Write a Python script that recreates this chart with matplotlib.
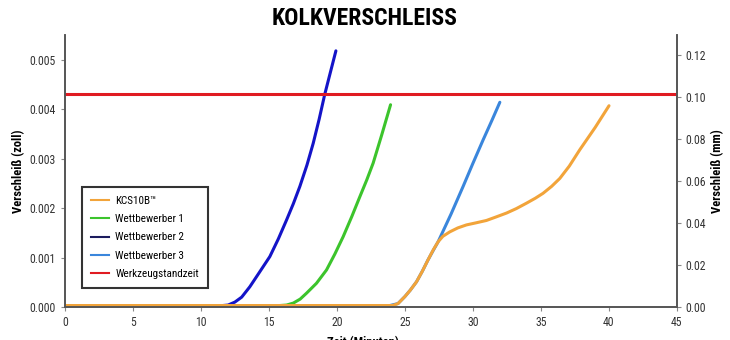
import matplotlib
matplotlib.use("Agg")
import matplotlib.pyplot as plt

plt.rcParams['font.family'] = ['Roboto Condensed', 'DejaVu Sans']

# Verschleiss in zoll ueber Zeit in Minuten
x_kcs = [0, 24.1, 24.5, 25, 25.4, 25.86, 26.3, 26.7, 27.1, 27.45, 27.8, 28.31, 28.9, 29.53, 30.2,
         31.0, 31.7, 32.48, 33.2, 33.95, 34.6, 35.17, 35.8, 36.4, 37.1, 37.87, 39.0, 40.02]
y_kcs = [0.00003, 0.00003, 0.00007, 0.00021, 0.00034, 0.00051, 0.00073, 0.00095, 0.00116, 0.00132,
         0.00143, 0.00152, 0.0016, 0.00166, 0.0017, 0.00175, 0.00182, 0.0019, 0.00199, 0.0021, 0.0022,
         0.0023, 0.00244, 0.0026, 0.00285, 0.00318, 0.00363, 0.00407]

x_w1 = [0, 15.8, 16.3, 16.8, 17.3, 17.77, 18.5, 19.24, 19.85, 20.46, 21.1, 21.69, 22.2, 22.67, 23.3, 23.95]
y_w1 = [0.00003, 0.00003, 0.00004, 0.00008, 0.00016, 0.00028, 0.00048, 0.00075, 0.00107, 0.00142,
        0.00183, 0.00223, 0.00257, 0.00291, 0.00348, 0.00409]

x_w2 = [0, 11.6, 12.0, 12.5, 13.0, 13.6, 14.3, 15.07, 15.7, 16.3, 16.8, 17.28, 17.8, 18.26, 18.7, 19.1, 19.5, 19.93]
y_w2 = [0.00003, 0.00003, 0.00004, 0.0001, 0.0002, 0.00041, 0.0007, 0.00102, 0.00138, 0.00176, 0.00209,
        0.00244, 0.00287, 0.00331, 0.0038, 0.00429, 0.00472, 0.00518]

x_w3 = [0, 23.9, 24.5, 25, 25.4, 25.86, 26.3, 26.7, 27.1, 27.45, 28.4, 29.29, 30.0, 30.76, 31.4, 31.99]
y_w3 = [0.00003, 0.00003, 0.00007, 0.00021, 0.00034, 0.00051, 0.00073, 0.00095, 0.00115, 0.00132,
        0.00188, 0.00244, 0.0029, 0.00338, 0.00377, 0.00414]

standzeit = 0.00431

labels = ['KCS10B\u2122', 'Wettbewerber 1', 'Wettbewerber 2', 'Wettbewerber 3', 'Werkzeugstandzeit']
colors = ['#f2a43a', '#3cc42c', '#1c1c5e', '#3a86dc', '#e01b22']

fig = plt.figure(figsize=(7.3, 3.4), dpi=100)
ax = fig.add_axes([0.089, 0.097, 0.838, 0.8])

ax.plot(x_w2, y_w2, color='#1414c8', lw=2.2, solid_capstyle='round', solid_joinstyle='round')
ax.plot(x_w1, y_w1, color=colors[1], lw=2.2, solid_capstyle='round', solid_joinstyle='round')
ax.plot(x_w3, y_w3, color=colors[3], lw=2.2, solid_capstyle='round', solid_joinstyle='round')
ax.plot(x_kcs, y_kcs, color=colors[0], lw=2.2, solid_capstyle='round', solid_joinstyle='round')
ax.axhline(standzeit, color=colors[4], lw=2.2)

ax.set_xlim(0, 45)
ax.set_ylim(0, 0.0055)
ax.set_xticks(range(0, 46, 5))
ax.set_yticks([0, 0.001, 0.002, 0.003, 0.004, 0.005])
ax.set_yticklabels(['0.000', '0.001', '0.002', '0.003', '0.004', '0.005'])
ax.spines['top'].set_visible(False)
for s in ['left', 'right', 'bottom']:
    ax.spines[s].set_color('#555555')
    ax.spines[s].set_linewidth(1.2)
ax.tick_params(labelsize=8.5, color='#888888', length=3, labelcolor='#333333')
ax.set_ylabel('Verschleiß (zoll)', fontsize=9, fontweight='bold', labelpad=3)

ax2 = ax.twinx()
ax2.set_ylim(0, 0.1295)
ax2.set_yticks([0, 0.02, 0.04, 0.06, 0.08, 0.10, 0.12])
ax2.set_yticklabels(['0.00', '0.02', '0.04', '0.06', '0.08', '0.10', '0.12'])
ax2.spines['top'].set_visible(False)
for s in ['left', 'right', 'bottom']:
    ax2.spines[s].set_color('#555555')
    ax2.spines[s].set_linewidth(1.2)
ax2.tick_params(labelsize=8.5, color='#888888', length=3, labelcolor='#333333')
ax2.set_ylabel('Verschleiß (mm)', fontsize=9, fontweight='bold', labelpad=3)

handles = [plt.Line2D([], [], color=c, lw=1.5) for c in colors]
leg = ax.legend(handles, labels, loc='lower left', bbox_to_anchor=(0.028, 0.07),
                fontsize=8, frameon=True, fancybox=False, edgecolor='black',
                handlelength=1.6, handletextpad=0.6, labelspacing=0.75, borderpad=0.8,
                borderaxespad=0)
leg.get_frame().set_linewidth(1.5)

fig.text(0.5, 0.947, 'KOLKVERSCHLEISS', ha='center', va='center', fontsize=17, fontweight='bold')
fig.text(0.497, 0.012, 'Zeit (Minuten)', ha='center', va='top', fontsize=9, fontweight='bold')

fig.savefig('out.png', dpi=100)
